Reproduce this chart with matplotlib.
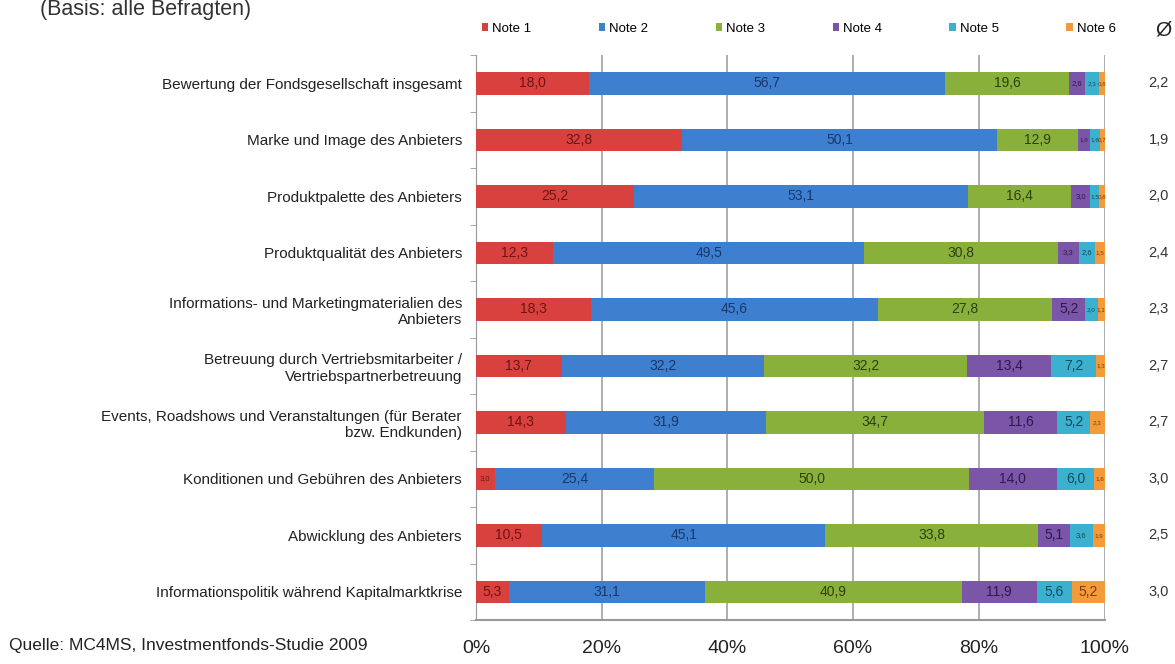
import numpy as np
import matplotlib
matplotlib.use("Agg")
import matplotlib.pyplot as plt

plt.rcParams['font.family'] = ['Liberation Sans', 'DejaVu Sans']

# categories from top to bottom
categories = [
    "Bewertung der Fondsgesellschaft insgesamt",
    "Marke und Image des Anbieters",
    "Produktpalette des Anbieters",
    "Produktqualität des Anbieters",
    "Informations- und Marketingmaterialien des\nAnbieters",
    "Betreuung durch Vertriebsmitarbeiter /\nVertriebspartnerbetreuung",
    "Events, Roadshows und Veranstaltungen (für Berater\nbzw. Endkunden)",
    "Konditionen und Gebühren des Anbieters",
    "Abwicklung des Anbieters",
    "Informationspolitik während Kapitalmarktkrise",
]
note1 = [18.0, 32.8, 25.2, 12.3, 18.3, 13.7, 14.3, 3.0, 10.5, 5.3]
note2 = [56.7, 50.1, 53.1, 49.5, 45.6, 32.2, 31.9, 25.4, 45.1, 31.1]
note3 = [19.6, 12.9, 16.4, 30.8, 27.8, 32.2, 34.7, 50.0, 33.8, 40.9]
note4 = [2.6, 1.9, 3.0, 3.3, 5.2, 13.4, 11.6, 14.0, 5.1, 11.9]
note5 = [2.3, 1.6, 1.5, 2.6, 2.0, 7.2, 5.2, 6.0, 3.6, 5.6]
note6 = [0.8, 0.7, 0.8, 1.5, 1.1, 1.3, 2.3, 1.6, 1.9, 5.2]
averages = ["2,2", "1,9", "2,0", "2,4", "2,3", "2,7", "2,7", "3,0", "2,5", "3,0"]
series_names = ["Note 1", "Note 2", "Note 3", "Note 4", "Note 5", "Note 6"]
x_ticks = [0, 20, 40, 60, 80, 100]

colors = ['#D9413F', '#3F7FCF', '#8AB03C', '#7B55A8', '#3BB0CF', '#F39A3A']
text_colors = ['#6B1514', '#17386B', '#2E4010', '#2E1A4D', '#134C5C', '#7A3F05']

series = [note1, note2, note3, note4, note5, note6]

fig = plt.figure(figsize=(11.75, 6.64), dpi=100)
ax = fig.add_axes([0.405, 0.066, 0.535, 0.851])

y = np.arange(len(categories))
left = np.zeros(len(categories))
for vals, name, c, tc in zip(series, series_names, colors, text_colors):
    vals = np.array(vals)
    ax.barh(y, vals, left=left, height=0.4, color=c, label=name, zorder=3)
    for yi, (l, v) in enumerate(zip(left, vals)):
        if v >= 4:
            fs = 10
        elif v >= 2.5:
            fs = 5.5
        else:
            fs = 4.5
        ax.text(l + v / 2, yi, ("%.1f" % v).replace(".", ","), ha='center',
                va='center', fontsize=fs, color=tc, zorder=4)
    left = left + vals

ax.set_xlim(0, 100)
ax.set_ylim(len(categories) - 0.5, -0.5)
ax.set_xticks(x_ticks)
ax.set_xticklabels(["%d%%" % t for t in x_ticks], fontsize=14, color='#222222')
ax.tick_params(axis='x', length=0, pad=14)
ax.set_yticks(y)
ax.set_yticklabels(categories, fontsize=11, color='#222222')
ax.tick_params(axis='y', length=0, pad=10)
ax.set_yticks(np.arange(len(categories) + 1) - 0.5, minor=True)
ax.tick_params(axis='y', which='minor', length=4, color='#999999')
ax.grid(axis='x', color='#A0A0A0', linewidth=1.2, zorder=0)
for s in ['top', 'right']:
    ax.spines[s].set_visible(False)
ax.spines['left'].set_color('#999999')
ax.spines['bottom'].set_color('#999999')
ax.spines['bottom'].set_linewidth(1.5)

for yi, a in enumerate(averages):
    ax.text(1.07, yi, a, transform=ax.get_yaxis_transform(), ha='left',
            va='center', fontsize=10.5, color='#333333')

leg = fig.legend(loc='center left', bbox_to_anchor=(0.400, 0.957), ncol=6,
                 frameon=False, fontsize=9.5, handlelength=0.5, handleheight=0.5,
                 columnspacing=5.1, handletextpad=0.3)
fig.text(0.99, 0.955, "Ø", fontsize=15, ha='center', va='center', color='#222222')
fig.text(0.034, 0.985, "(Basis: alle Befragten)", fontsize=15.5, ha='left',
         va='center', color='#333333')
fig.text(0.008, 0.028, "Quelle: MC4MS, Investmentfonds-Studie 2009", fontsize=12.5,
         ha='left', va='center', color='#222222')

fig.savefig("out.png", dpi=100)
